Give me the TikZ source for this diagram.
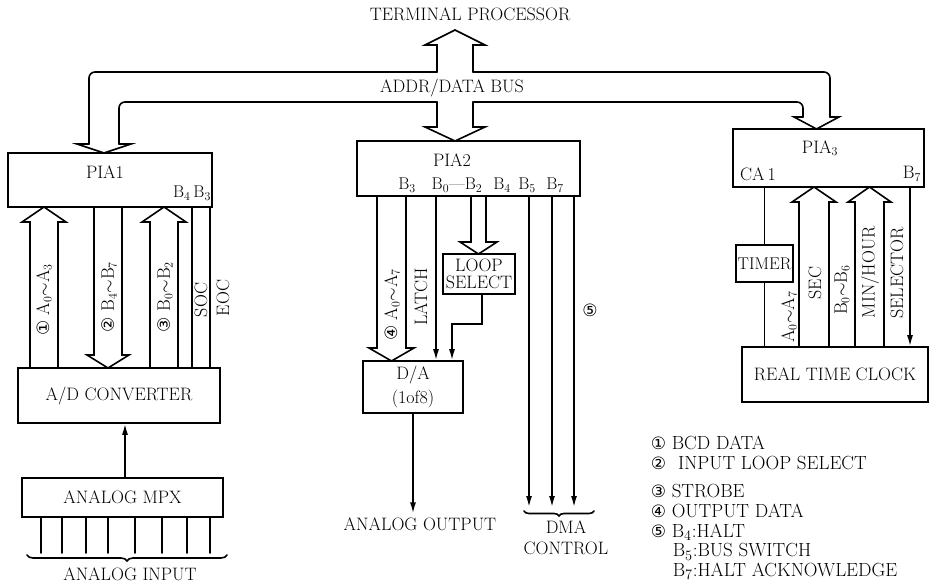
\documentclass[tikz,border=0pt]{standalone}
\usepackage{fontspec}
\usepackage{tikz}
\usetikzlibrary{arrows.meta,decorations.pathreplacing}
\newfontfamily\circfont{DejaVu Sans}
\newcommand{\cnum}[1]{{\circfont\fontsize{17}{17}\selectfont #1}}
% hollow bus arrow: left x, right x, stem end y, head base y, tip y, overhang
\newcommand{\hollowarrow}[6]{%
  \draw (#1,#3) -- (#1,#4) -- (#1-#6,#4) -- ({(#1+#2)/2},#5) -- (#2+#6,#4) -- (#2,#4) -- (#2,#3);}

\begin{document}
\begin{tikzpicture}[x=1pt,y=-1pt,line width=1.6pt,line cap=round,
  font=\fontsize{18}{20}\selectfont,
  blk/.style={draw,inner sep=0pt},
  lbl/.style={rotate=90,inner sep=0pt},
  port/.style={inner sep=0pt,font=\fontsize{17}{18}\selectfont},
  sig/.style={-{Latex[length=11pt,width=6pt]}},
  lgd/.style={anchor=west,inner sep=0pt,font=\fontsize{19}{20}\selectfont}]

\useasboundingbox (0,0) rectangle (931,585);

\node (tp) at (470,14) {TERMINAL PROCESSOR};

% address/data bus
\draw (89,144) -- (77,144) -- (104,153) -- (131,144) -- (119,144);
\draw[rounded corners=6pt] (89,144) |- (437,72);
\draw (437,72) -- (437,45) -- (425,45) -- (455,30) -- (485,45) -- (473,45) -- (473,72);
\draw[rounded corners=6pt] (473,72) -| (830,117);
\draw (830,117) -- (839,117) -- (816.5,129) -- (794,117) -- (803,117);
\draw[rounded corners=6pt] (803,117) |- (473,102);
\draw (473,102) -- (473,127) -- (485,127) -- (455,141) -- (425,127) -- (437,127) -- (437,102);
\draw[rounded corners=6pt] (437,102) -| (119,144);
\node (bus) at (452,88) {ADDR/DATA BUS};

% PIA1 side
\node[blk,minimum width=204pt,minimum height=54pt] (pia1) at (110,180) {};
\node (pia1t) at (105,172) {PIA1};
\node[port] (pia1b) at (192,193) {B$_4$\,B$_3$};
\node[blk,minimum width=202pt,minimum height=55pt] (adc) at (119,395.5) {A/D CONVERTER};
\node[blk,minimum width=201pt,minimum height=39pt] (mpx) at (122.5,497.5) {ANALOG MPX};
\hollowarrow{30}{58}{368}{222}{207}{8}
\hollowarrow{94}{122}{207}{355}{368}{7}
\hollowarrow{150}{178}{368}{222}{207}{8}
\draw (pia1.south -| 192,0) -- (adc.north -| 192,0);
\draw (pia1.south -| 210,0) -- (adc.north -| 210,0);
\node[lbl] (l1) at (44,300) {\cnum{①} A$_0{\sim}$A$_3$};
\node[lbl] (l2) at (109,297) {\cnum{②} B$_4{\sim}$B$_7$};
\node[lbl] (l3) at (165,297) {\cnum{③} B$_0{\sim}$B$_2$};
\node[lbl] (soc) at (201,300) {SOC};
\node[lbl] (eoc) at (223,298) {EOC};
\draw[sig] (mpx.north -| 125,0) -- (adc.south -| 125,0);
\coordinate (inbot) at (0,553);
\foreach \x in {41,62,86,108,135,162,187,210}
  \draw (mpx.south -| \x,0) -- (inbot -| \x,0);
\draw[decorate,decoration={brace,mirror,amplitude=6pt}] (27,555) -- (227,555);
\node (ain) at (130,574) {ANALOG INPUT};

% PIA2 side
\node[blk,minimum width=223pt,minimum height=55pt] (pia2) at (468.5,168.5) {};
\node (pia2t) at (452,160) {PIA2};
\foreach \x/\t in {407/B$_3$,457/B$_0$---B$_2$,502/B$_4$,527/B$_5$,555/B$_7$}
  \node[port] (p\x) at (\x,185) {\t};
\node[blk,minimum width=72pt,minimum height=40pt,align=center,
  font=\fontsize{18}{17}\selectfont] (loopsel) at (479,274) {LOOP\\SELECT};
\node[blk,minimum width=100pt,minimum height=52pt,align=center,
  font=\fontsize{18}{24}\selectfont] (da) at (413,387) {D/A\\(1of8)};
\hollowarrow{377}{406}{196}{348}{361}{8}
\hollowarrow{471}{486}{196}{242}{254}{11}
\draw[sig] (pia2.south -| 436,0) -- (da.north -| 436,0);
\draw[sig] (loopsel.south -| 482,0) -- (482,324) -| (da.north -| 452,0);
\node[lbl] (l4) at (392,305) {\cnum{④} A$_0{\sim}$A$_7$};
\node[lbl] (latch) at (421,297) {LATCH};
\node (aout) at (420,524) {ANALOG OUTPUT};
\draw[sig] (da.south) -- (da.south |- aout.north);
\coordinate (dmaend) at (0,507);
\foreach \x in {529,552,574}
  \draw[sig] (pia2.south -| \x,0) -- (dmaend -| \x,0);
\draw[decorate,decoration={brace,mirror,amplitude=5pt}] (524,511) -- (594,511);
\node[align=center,font=\fontsize{18}{21}\selectfont] (dma) at (566,538) {DMA\\CONTROL};
\node (five) at (590,310) {\cnum{⑤}};

% PIA3 side
\node[blk,minimum width=191pt,minimum height=58pt] (pia3) at (828.5,158) {};
\node (pia3t) at (820,148) {PIA$_3$};
\node (ca1) at (758,174) {CA\,1};
\node (b7) at (912,174) {B$_7$};
\node[blk,minimum width=57pt,minimum height=37pt,font=\fontsize{17}{18}\selectfont] (timer) at (764.5,263.5) {TIMER};
\node[blk,minimum width=186pt,minimum height=55pt] (rtc) at (835,374.5) {REAL TIME CLOCK};
\draw (pia3.south -| timer.north) -- (timer.north);
\draw (timer.south) -- (timer.south |- rtc.north);
\hollowarrow{799}{829}{347}{202}{187}{7}
\hollowarrow{855}{884}{347}{202}{187}{7}
\draw[sig] (pia3.south -| 910,0) -- (rtc.north -| 910,0);
\node[lbl] (l5) at (789,317) {A$_0{\sim}$A$_7$};
\node[lbl] (sec) at (815,283) {SEC};
\node[lbl] (l6) at (842,290) {B$_0{\sim}$B$_6$};
\node[lbl] (minhr) at (870,272) {MIN/HOUR};
\node[lbl] (selr) at (897,273) {SELECTOR};

% legend
\node[lgd] (lg1) at (650,443) {\cnum{①} BCD DATA};
\node[lgd] (lg2) at (650,463) {\cnum{②}\hspace{12pt}INPUT LOOP SELECT};
\node[lgd] (lg3) at (650,491) {\cnum{③} STROBE};
\node[lgd] (lg4) at (650,511) {\cnum{④} OUTPUT DATA};
\node[lgd] (lg5) at (650,532) {\cnum{⑤} B$_4$:HALT};
\node[lgd] (lg6) at (672,552) {B$_5$:BUS SWITCH};
\node[lgd] (lg7) at (672,571) {B$_7$:HALT ACKNOWLEDGE};
\end{tikzpicture}
\end{document}
